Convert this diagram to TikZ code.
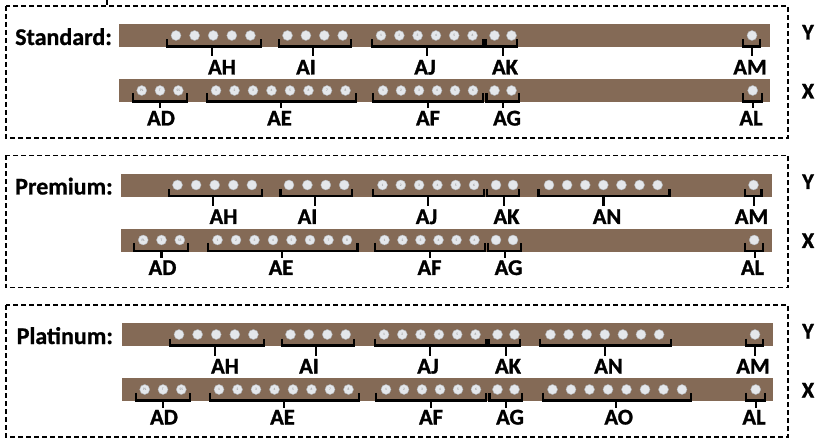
\documentclass[tikz,border=0pt]{standalone}
\usepackage{fontspec}
\setmainfont{Carlito}
\definecolor{wood}{RGB}{132,106,86}
\definecolor{btnfill}{RGB}{228,231,235}
\definecolor{btnline}{RGB}{175,178,182}
\tikzset{
  bar/.style={fill=wood, draw=none, rectangle, inner sep=0pt, minimum width=651pt, minimum height=23pt, anchor=north west},
  btn/.style={circle, fill=btnfill, draw=btnline, line width=0.4pt, minimum size=10pt, inner sep=0pt, font=\fontsize{3.5}{3.5}\selectfont, text=gray},
  brk/.style={line width=2.2pt, black},
  lbl/.style={font=\fontsize{22.5}{22.5}\selectfont\bfseries\addfontfeatures{FakeBold=1.2}, inner sep=0pt, anchor=base},
  ttl/.style={font=\fontsize{24}{24}\selectfont\bfseries\addfontfeatures{FakeBold=0.8}, inner sep=0pt, anchor=base west},
  box/.style={line width=1.1pt, dash pattern=on 5pt off 3pt}
}
% buttons without text: #1 name, #2 y, #3 x0, #4 step, #5 last index
\newcommand{\btnsN}[5]{%
  \foreach \i in {0,...,#5} {\node[btn] (#1-\i) at ({#3+#4*\i},#2) {};}}
% buttons with text
\newcommand{\btnsT}[5]{%
  \foreach \t [count=\i from 0] in {#5} {\node[btn] (#1-\i) at ({#3+#4*\i},#2) {\t};}}
% group on Y row: #1 name, #2 x1, #3 x2, #4 stem x, #5 label x, #6 text
\newcommand{\grpY}[6]{%
  \draw[brk] (#2,39.5) -- (#2,46.5) -- (#3,46.5) -- (#3,39.5);
  \coordinate (#1-s) at (#4,46.5);
  \node[lbl] (#1) at (#5,74.5) {#6};
  \draw[brk] (#1-s) -- ++(0,10);}
% group on X row
\newcommand{\grpX}[6]{%
  \draw[brk] (#2,93.5) -- (#2,101.5) -- (#3,101.5) -- (#3,93.5);
  \coordinate (#1-s) at (#4,101.5);
  \node[lbl] (#1) at (#5,125.5) {#6};
  \draw[brk] (#1-s) -- ++(0,7);}
% common content of a section
\newcommand{\common}[1]{%
  \node[bar] (#1Y) at (119,24) {};
  \node[bar] (#1X) at (119,79) {};
  \btnsN{#1ah}{35.5}{176}{18.6}{4}
  \btnsN{#1ai}{35.5}{287.5}{18.4}{3}
  \btnsT{#1aj}{35.5}{381}{18.3}{1,2,3,4,5,6}
  \btnsN{#1ak}{35.5}{494.5}{17}{1}
  \btnsN{#1am}{35.5}{752}{0}{0}
  \btnsT{#1ad}{90.5}{141.7}{18.3}{PL,T,SS}
  \btnsT{#1ae}{90.5}{216}{18.5}{1,2,3,4,5,6,7,8}
  \btnsT{#1af}{90.5}{383}{18}{1,2,3,4,5,6}
  \btnsN{#1ag}{90.5}{494.5}{17}{1}
  \btnsN{#1al}{90.5}{752.7}{0}{0}
  \grpY{#1AH}{167.3}{260.7}{211.7}{222}{AH}
  \grpY{#1AI}{279}{350.7}{313.3}{306}{AI}
  \grpY{#1AJ}{371.7}{482.7}{426.7}{425}{AJ}
  \grpY{#1AK}{485.5}{517.3}{502.7}{505}{AK}
  \grpY{#1AM}{743.3}{760}{752.3}{750}{AM}
  \grpX{#1AD}{132.7}{186.7}{160}{161}{AD}
  \grpX{#1AE}{206.7}{356}{280.7}{279.5}{AE}
  \grpX{#1AF}{373.3}{483.3}{428.3}{428}{AF}
  \grpX{#1AG}{486.5}{519.3}{503.3}{507}{AG}
  \grpX{#1AL}{743.3}{761.7}{753.3}{751}{AL}}
\newcommand{\sidelabels}[1]{%
  \node[lbl] (#1sy) at (808,39.5) {Y};
  \node[lbl] (#1sx) at (808,98.5) {X};}
\begin{document}
\begin{tikzpicture}[x=1pt,y=-1pt]
\useasboundingbox (0,0) rectangle (816,438);
\draw[box] (107,0) -- (107,7);
% Standard
\draw[box] (6,6) rectangle (788,138);
\node[ttl] (tstd) at (15,45) {Standard:};
\sidelabels{s}
\begin{scope}
  \common{s}
\end{scope}
% Premium
\draw[box] (6,155.5) rectangle (788,287.5);
\node[ttl] (tprm) at (15,194.5) {Premium:};
\begin{scope}[shift={(0,149.5)}]
  \sidelabels{p}
  \begin{scope}[shift={(1.5,0)}]
    \common{p}
    \btnsN{pan}{35.5}{547.5}{18.1}{6}
    \grpY{pAN}{537}{668}{602}{605.5}{AN}
  \end{scope}
\end{scope}
% Platinum
\draw[box] (6,305) rectangle (788,437);
\node[ttl] (tplt) at (16.5,344) {Platinum:};
\begin{scope}[shift={(0,299)}]
  \sidelabels{t}
  \begin{scope}[shift={(3,0)}]
    \common{t}
    \btnsN{tan}{35.5}{547.5}{18.1}{6}
    \grpY{tAN}{537}{668}{602}{605.5}{AN}
    \btnsN{tao}{90.5}{549.5}{18.5}{7}
    \grpX{tAO}{540.3}{687.7}{613}{615.7}{AO}
  \end{scope}
\end{scope}
\end{tikzpicture}
\end{document}
